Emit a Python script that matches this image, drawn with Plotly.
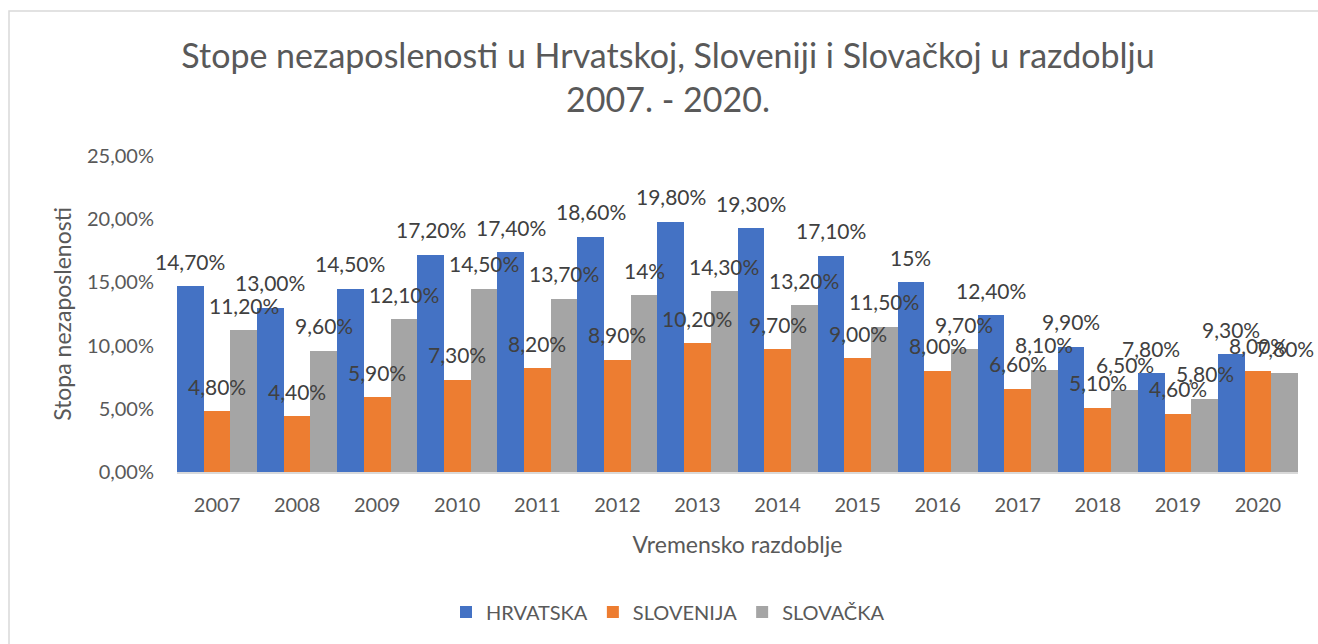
import plotly.graph_objects as go

years = ["2007", "2008", "2009", "2010", "2011", "2012", "2013",
         "2014", "2015", "2016", "2017", "2018", "2019", "2020"]
hrvatska = [14.7, 13.0, 14.5, 17.2, 17.4, 18.6, 19.8, 19.3, 17.1, 15.0, 12.4, 9.9, 7.8, 9.3]
slovenija = [4.8, 4.4, 5.9, 7.3, 8.2, 8.9, 10.2, 9.7, 9.0, 8.0, 6.6, 5.1, 4.6, 8.0]
slovacka = [11.2, 9.6, 12.1, 14.5, 13.7, 14.0, 14.3, 13.2, 11.5, 9.7, 8.1, 6.5, 5.8, 7.8]
hrvatska_lbl = ["14,70%", "13,00%", "14,50%", "17,20%", "17,40%", "18,60%", "19,80%",
                "19,30%", "17,10%", "15%", "12,40%", "9,90%", "7,80%", "9,30%"]
slovenija_lbl = ["4,80%", "4,40%", "5,90%", "7,30%", "8,20%", "8,90%", "10,20%",
                 "9,70%", "9,00%", "8,00%", "6,60%", "5,10%", "4,60%", "8,00%"]
slovacka_lbl = ["11,20%", "9,60%", "12,10%", "14,50%", "13,70%", "14%", "14,30%",
                "13,20%", "11,50%", "9,70%", "8,10%", "6,50%", "5,80%", "7,80%"]
tick_vals = [0, 5, 10, 15, 20, 25]
tick_text = ["0,00%", "5,00%", "10,00%", "15,00%", "20,00%", "25,00%"]

series = [
    ("HRVATSKA", hrvatska, hrvatska_lbl, "#4472C4"),
    ("SLOVENIJA", slovenija, slovenija_lbl, "#ED7D31"),
    ("SLOVAČKA", slovacka, slovacka_lbl, "#A5A5A5"),
]

FONT = "Lato, 'Open Sans', sans-serif"
W, H = 1318, 644
L, R, T, B = 177, 20, 156, 172
plot_w = W - L - R
plot_h = H - T - B
group_px = plot_w / len(years)
bar_px = group_px / 3

fig = go.Figure()
annotations = []
for i, (name, vals, lbls, color) in enumerate(series):
    fig.add_trace(go.Bar(
        x=years, y=vals, name=name,
        marker=dict(color=color, line=dict(width=0)),
        hoverinfo="skip",
    ))
    shift = (i - 1) * bar_px
    for j, (v, t) in enumerate(zip(vals, lbls)):
        annotations.append(dict(
            x=j, y=v, xref="x", yref="y", text=t, showarrow=False,
            xanchor="center", yanchor="middle", xshift=shift, yshift=25,
            font=dict(family=FONT, size=21, color="#404040"),
        ))

def px_x(p):
    return (p - L) / plot_w

def px_y(p):
    return (H - B - p) / plot_h

fig.update_layout(
    width=W, height=H,
    margin=dict(l=L, r=R, t=T, b=B),
    paper_bgcolor="white", plot_bgcolor="white",
    barmode="group", bargap=0, bargroupgap=0,
    font=dict(family=FONT, color="#595959"),
    title=dict(
        text="Stope nezaposlenosti u Hrvatskoj, Sloveniji i Slovačkoj u razdoblju<br>2007. - 2020.",
        x=668 / W, xanchor="center", y=1 - 68 / H, yanchor="middle",
        font=dict(family=FONT, size=34, color="#595959"),
    ),
    xaxis=dict(
        type="category", range=[-0.5, len(years) - 0.5], autorange=False,
        showgrid=False, showline=True, linecolor="#D9D9D9", linewidth=1.5,
        ticks="", tickfont=dict(size=20, color="#595959"),
        ticklabelstandoff=14,
        title=dict(text="Vremensko razdoblje", font=dict(size=23, color="#595959"), standoff=22),
    ),
    yaxis=dict(
        range=[0, 25], autorange=False, tickvals=tick_vals, ticktext=tick_text,
        showgrid=False, zeroline=False, showline=False, ticks="",
        tickfont=dict(size=20, color="#595959"),
        ticklabelstandoff=22,
        title=dict(text="Stopa nezaposlenosti", font=dict(size=23, color="#595959"), standoff=8),
    ),
    legend=dict(
        orientation="h", x=668 / W, xref="container", xanchor="center",
        y=1 - 612 / H, yref="container", yanchor="middle",
        font=dict(size=20, color="#595959"), itemwidth=30,
    ),
    annotations=annotations,
    shapes=[dict(
        type="rect", xref="paper", yref="paper",
        x0=px_x(9), x1=px_x(1330), y0=px_y(660), y1=px_y(11),
        line=dict(color="#D9D9D9", width=1.5), fillcolor="rgba(0,0,0,0)", layer="below",
    )],
)

fig.write_html(
    "out.html",
    config={"displayModeBar": False},
    post_script="document.body.style.margin='0';document.body.style.overflow='hidden';",
)
